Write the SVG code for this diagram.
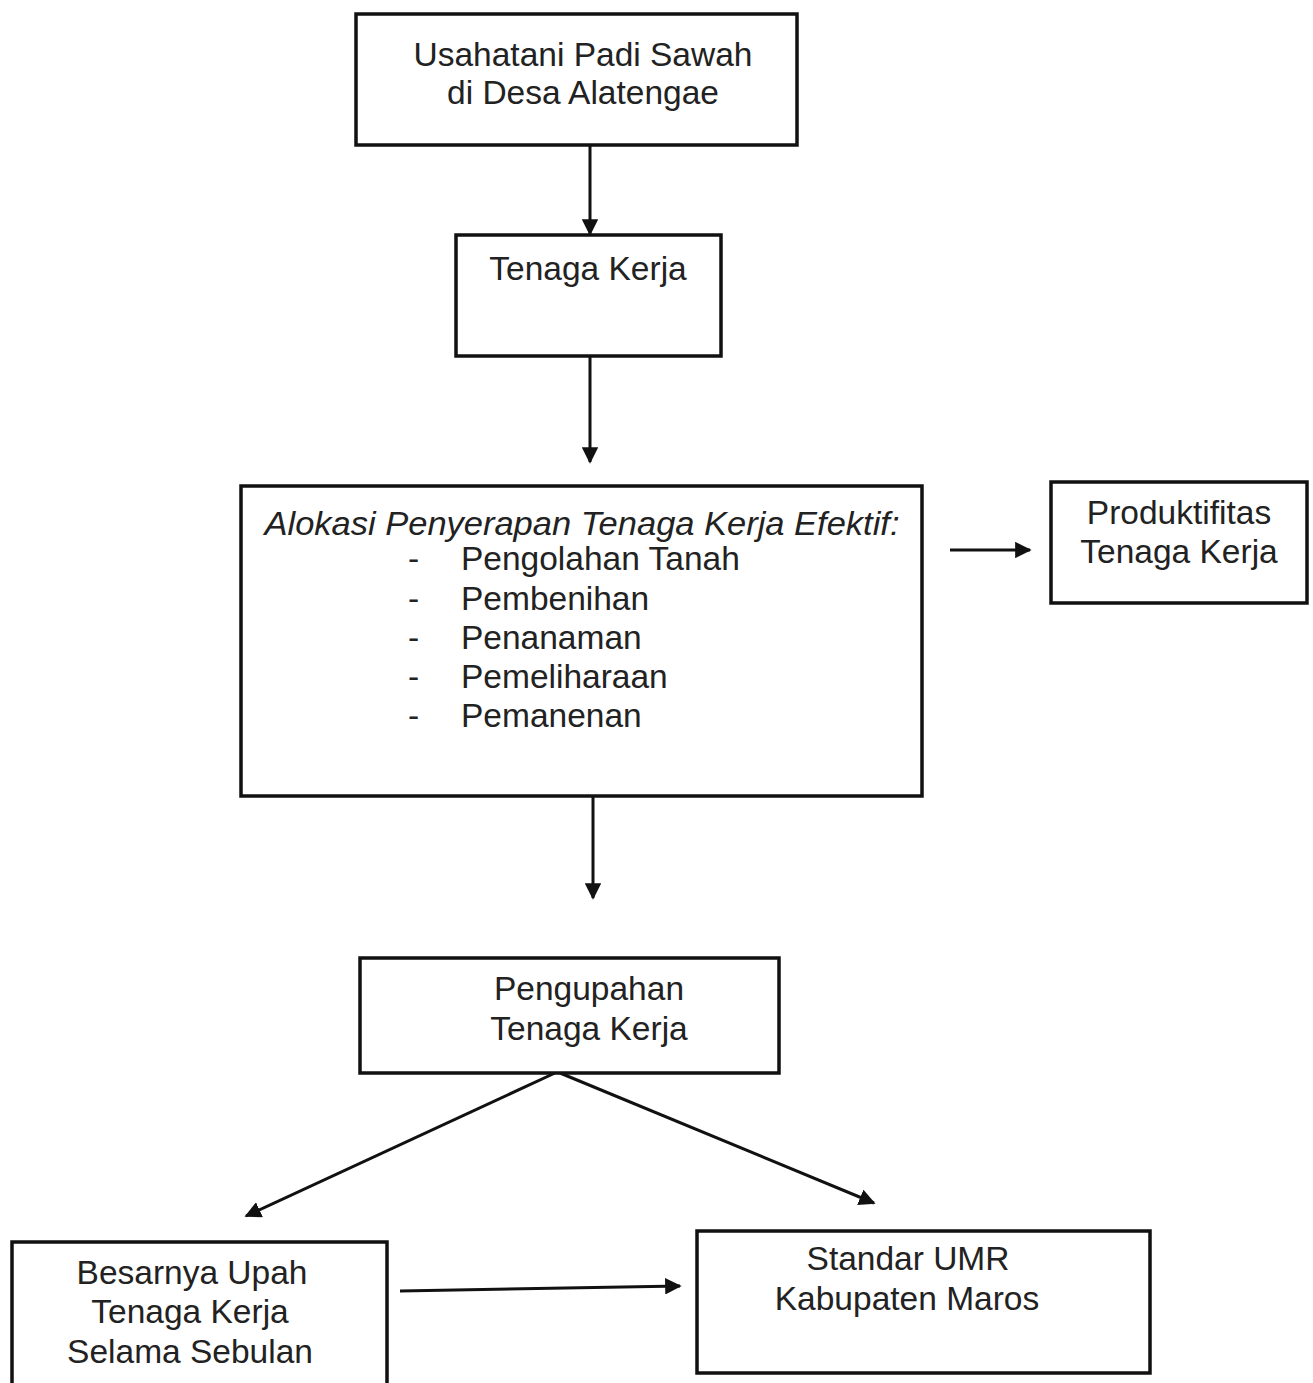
<svg xmlns="http://www.w3.org/2000/svg" width="1313" height="1383" viewBox="0 0 1313 1383">
<defs>
<marker id="ah" viewBox="0 0 10 10" refX="9" refY="5" markerWidth="5.5" markerHeight="5.5" markerUnits="strokeWidth" orient="auto">
<path d="M0,0 L10,5 L0,10 z" fill="#111"/>
</marker>
<style>
.box{fill:#fff;stroke:#111;stroke-width:3.5}
.t{font-family:"Liberation Sans",Arial,sans-serif;font-size:33.5px;fill:#222;text-anchor:middle}
.l{font-family:"Liberation Sans",Arial,sans-serif;font-size:33.5px;fill:#222}
.c{stroke:#111;stroke-width:3;fill:none;marker-end:url(#ah)}
</style>
</defs>
<rect width="1313" height="1383" fill="#fff"/>
<g id="connectors">
<line class="c" x1="590" y1="145" x2="590" y2="234"/>
<line class="c" x1="590" y1="356" x2="590" y2="462"/>
<line class="c" x1="950" y1="550" x2="1030" y2="550"/>
<line class="c" x1="593" y1="796" x2="593" y2="898"/>
<line class="c" x1="555" y1="1073" x2="246" y2="1216"/>
<line class="c" x1="560" y1="1073" x2="874" y2="1203"/>
<line class="c" x1="400" y1="1291" x2="680" y2="1286"/>
</g>
<g id="n1">
<rect class="box" x="356" y="14" width="441" height="131"/>
<text class="t" x="583" y="66">Usahatani Padi Sawah</text>
<text class="t" x="583" y="104">di Desa Alatengae</text>
</g>
<g id="n2">
<rect class="box" x="456" y="235" width="265" height="121"/>
<text class="t" x="588" y="280">Tenaga Kerja</text>
</g>
<g id="n3">
<rect class="box" x="241" y="486" width="681" height="310"/>
<text class="t" x="582" y="535" font-style="italic" textLength="635" lengthAdjust="spacingAndGlyphs">Alokasi Penyerapan Tenaga Kerja Efektif:</text>
<text class="l" x="408" y="570">-</text><text class="l" x="461" y="570">Pengolahan Tanah</text>
<text class="l" x="408" y="610">-</text><text class="l" x="461" y="610">Pembenihan</text>
<text class="l" x="408" y="649">-</text><text class="l" x="461" y="649">Penanaman</text>
<text class="l" x="408" y="688">-</text><text class="l" x="461" y="688">Pemeliharaan</text>
<text class="l" x="408" y="727">-</text><text class="l" x="461" y="727">Pemanenan</text>
</g>
<g id="n4">
<rect class="box" x="1051" y="482" width="256" height="121"/>
<text class="t" x="1179" y="524">Produktifitas</text>
<text class="t" x="1179" y="563">Tenaga Kerja</text>
</g>
<g id="n5">
<rect class="box" x="360" y="958" width="419" height="115"/>
<text class="t" x="589" y="1000">Pengupahan</text>
<text class="t" x="589" y="1040">Tenaga Kerja</text>
</g>
<g id="n6">
<rect class="box" x="12" y="1242" width="375" height="145"/>
<text class="t" x="192" y="1284">Besarnya Upah</text>
<text class="t" x="190" y="1323">Tenaga Kerja</text>
<text class="t" x="190" y="1363">Selama Sebulan</text>
</g>
<g id="n7">
<rect class="box" x="697" y="1231" width="453" height="142"/>
<text class="t" x="908" y="1270">Standar UMR</text>
<text class="t" x="907" y="1310">Kabupaten Maros</text>
</g>
</svg>
